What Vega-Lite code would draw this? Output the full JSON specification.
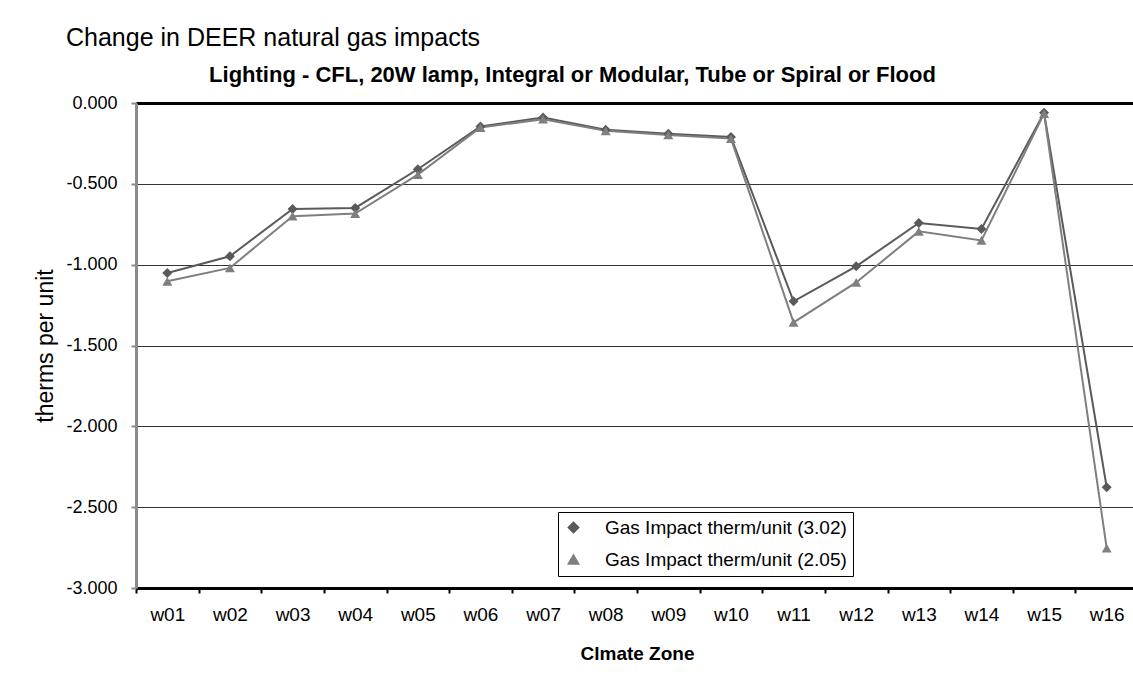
{
  "$schema": "https://vega.github.io/schema/vega-lite/v6.json",
  "width": 1002,
  "height": 485,
  "autosize": {"type": "none"},
  "padding": {"left": 136, "top": 103, "right": 0, "bottom": 99},
  "background": "white",
  "config": {
    "view": {"stroke": null},
    "font": "Liberation Sans"
  },
  "title": {
    "text": "Change in DEER natural gas impacts",
    "anchor": "start",
    "frame": "group",
    "dx": -70,
    "offset": 12,
    "font": "Liberation Sans",
    "fontSize": 25,
    "fontWeight": "normal",
    "color": "black"
  },
  "data": {
    "values": [
      {"zone": "w01", "series": "A", "value": -1.051},
      {"zone": "w02", "series": "A", "value": -0.948},
      {"zone": "w03", "series": "A", "value": -0.655},
      {"zone": "w04", "series": "A", "value": -0.649},
      {"zone": "w05", "series": "A", "value": -0.41},
      {"zone": "w06", "series": "A", "value": -0.145},
      {"zone": "w07", "series": "A", "value": -0.09},
      {"zone": "w08", "series": "A", "value": -0.165},
      {"zone": "w09", "series": "A", "value": -0.19},
      {"zone": "w10", "series": "A", "value": -0.21},
      {"zone": "w11", "series": "A", "value": -1.227},
      {"zone": "w12", "series": "A", "value": -1.01},
      {"zone": "w13", "series": "A", "value": -0.742},
      {"zone": "w14", "series": "A", "value": -0.779},
      {"zone": "w15", "series": "A", "value": -0.061},
      {"zone": "w16", "series": "A", "value": -2.377},
      {"zone": "w01", "series": "B", "value": -1.103},
      {"zone": "w02", "series": "B", "value": -1.02},
      {"zone": "w03", "series": "B", "value": -0.70},
      {"zone": "w04", "series": "B", "value": -0.684},
      {"zone": "w05", "series": "B", "value": -0.443},
      {"zone": "w06", "series": "B", "value": -0.152},
      {"zone": "w07", "series": "B", "value": -0.10},
      {"zone": "w08", "series": "B", "value": -0.172},
      {"zone": "w09", "series": "B", "value": -0.198},
      {"zone": "w10", "series": "B", "value": -0.22},
      {"zone": "w11", "series": "B", "value": -1.357},
      {"zone": "w12", "series": "B", "value": -1.11},
      {"zone": "w13", "series": "B", "value": -0.794},
      {"zone": "w14", "series": "B", "value": -0.85},
      {"zone": "w15", "series": "B", "value": -0.066},
      {"zone": "w16", "series": "B", "value": -2.754}
    ]
  },
  "layer": [
    {
      "mark": {"type": "line", "strokeWidth": 2},
      "encoding": {
        "x": {
          "field": "zone", "type": "nominal",
          "scale": {"paddingInner": 0, "paddingOuter": 0},
          "axis": {
            "orient": "bottom",
            "title": "Clmate Zone",
            "tickBand": "extent",
            "domainColor": "black", "domainWidth": 3,
            "tickColor": "black", "tickWidth": 2, "tickSize": 5,
            "labelFont": "Liberation Sans", "labelFontSize": 19, "labelColor": "black",
            "labelAngle": 0, "labelPadding": 12,
            "titleFont": "Liberation Sans", "titleFontSize": 19, "titleFontWeight": "bold",
            "titleColor": "black", "titleY": 65, "titleBaseline": "middle",
            "grid": false
          }
        },
        "y": {
          "field": "value", "type": "quantitative",
          "scale": {"domain": [-3, 0], "nice": false, "zero": false},
          "axis": {
            "title": "therms per unit",
            "values": [0, -0.5, -1, -1.5, -2, -2.5, -3],
            "labelExpr": "replace(format(datum.value, '.3f'), '\u2212', '-')",
            "domainColor": "#8c8c8c", "domainWidth": 3,
            "tickColor": "#8c8c8c", "tickWidth": 2, "tickSize": 5,
            "labelFont": "Liberation Sans", "labelFontSize": 18, "labelColor": "black",
            "labelPadding": 14,
            "titleFont": "Liberation Sans", "titleFontSize": 23, "titleFontWeight": "normal",
            "titleColor": "black", "titlePadding": 8,
            "grid": true, "gridColor": "#333333", "gridWidth": 1
          }
        },
        "color": {
          "field": "series", "type": "nominal",
          "scale": {"domain": ["A", "B"], "range": ["#5a5a5a", "#7f7f7f"]}
        }
      }
    },
    {
      "mark": {"type": "point", "filled": true, "opacity": 1, "size": 100},
      "encoding": {
        "x": {
          "field": "zone", "type": "nominal",
          "scale": {"paddingInner": 0, "paddingOuter": 0},
          "axis": {
            "orient": "top",
            "title": "Lighting - CFL, 20W lamp, Integral or Modular, Tube or Spiral or Flood",
            "labels": false, "ticks": false, "grid": false,
            "domainColor": "black", "domainWidth": 3,
            "titleFont": "Liberation Sans", "titleFontSize": 22, "titleFontWeight": "bold",
            "titleColor": "black", "titleX": 436, "titleY": -29,
            "titleAlign": "center", "titleBaseline": "middle"
          }
        },
        "y": {
          "field": "value", "type": "quantitative",
          "scale": {"domain": [-3, 0], "nice": false, "zero": false}
        },
        "color": {
          "field": "series", "type": "nominal",
          "scale": {"domain": ["A", "B"], "range": ["#5a5a5a", "#7f7f7f"]},
          "legend": {
            "orient": "none", "legendX": 422, "legendY": 409,
            "title": null,
            "labelExpr": "datum.label == 'A' ? 'Gas Impact therm/unit (3.02)' : 'Gas Impact therm/unit (2.05)'",
            "labelLimit": 400,
            "strokeColor": "black", "fillColor": "white",
            "padding": 6, "rowPadding": 12, "labelOffset": 22,
            "labelFont": "Liberation Sans", "labelFontSize": 19, "labelColor": "black",
            "symbolSize": 110, "symbolOpacity": 1
          }
        },
        "shape": {
          "field": "series", "type": "nominal",
          "scale": {"domain": ["A", "B"], "range": ["diamond", "triangle-up"]},
          "legend": {
            "orient": "none", "legendX": 422, "legendY": 409,
            "title": null,
            "labelExpr": "datum.label == 'A' ? 'Gas Impact therm/unit (3.02)' : 'Gas Impact therm/unit (2.05)'",
            "labelLimit": 400,
            "strokeColor": "black", "fillColor": "white",
            "padding": 6, "rowPadding": 12, "labelOffset": 22,
            "labelFont": "Liberation Sans", "labelFontSize": 19, "labelColor": "black",
            "symbolSize": 110, "symbolOpacity": 1
          }
        }
      }
    }
  ],
  "resolve": {"axis": {"x": "independent"}}
}
